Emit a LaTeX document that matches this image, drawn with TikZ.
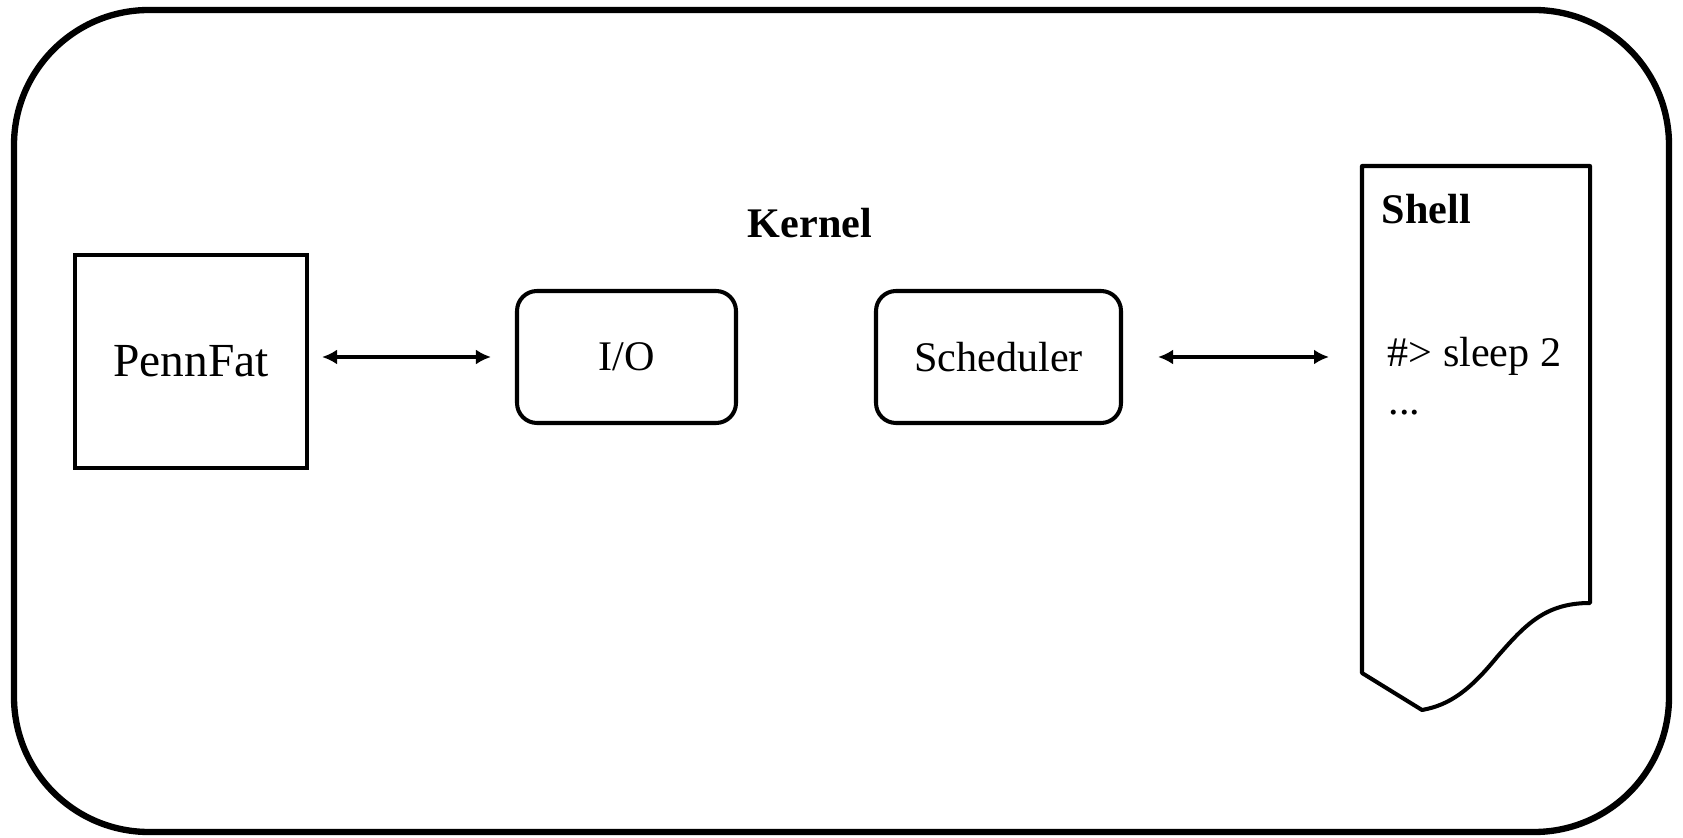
\documentclass[tikz,border=0pt]{standalone}
\usepackage{fontspec}
\setmainfont{Liberation Serif}
\usetikzlibrary{arrows.meta}
\tikzset{
    rbox/.style={draw, line width=1.15pt, rounded corners=0.2cm, minimum height=1.32cm, font=\fontsize{12}{14}\selectfont},
    biarrow/.style={{Latex[length=1.5mm,width=1.5mm]}-{Latex[length=1.5mm,width=1.5mm]}, line width=0.9pt},
    shtext/.style={anchor=base west, inner sep=0pt, font=\fontsize{12}{14}\selectfont}
}
\begin{document}
\begin{tikzpicture}
    \useasboundingbox (0,0) rectangle (16.83,8.37);
    \draw[line width=1.8pt, rounded corners=1.35cm] (0.14,0.05) rectangle (16.69,8.27);
    \node[draw, line width=1.15pt, minimum width=2.32cm, minimum height=2.13cm, font=\fontsize{13.5}{16}\selectfont] at (1.91,4.755) (pf) {PennFat};
    \node[rbox, minimum width=2.19cm] at (6.265,4.80) (io) {I/O};
    \node[rbox, minimum width=2.45cm] at (9.985,4.80) (sched) {Scheduler};
    \node[anchor=base, font=\fontsize{12}{14}\selectfont\bfseries] at (8.10,5.99) (kernel) {Kernel};
    \coordinate (shin) at (13.61,4.80);
    \draw[biarrow, shorten <=0.13cm, shorten >=0.24cm] (pf.east |- io.west) -- (io.west);
    \draw[biarrow, shorten <=0.35cm, shorten >=0.32cm] (sched.east) -- (shin);
    % shell window
    \draw[line width=1.15pt, line join=round] (13.62,1.64) -- (13.62,6.71) -- (15.90,6.71) -- (15.90,2.34)
        .. controls (15.45,2.34) and (15.25,2.12) .. (14.97,1.80)
        .. controls (14.70,1.47) and (14.50,1.32) .. (14.22,1.27)
        -- cycle;
    \node[shtext, font=\fontsize{12}{14}\selectfont\bfseries] at (13.81,6.13) (shell) {Shell};
    \node[shtext] at (13.87,4.70) (cmd) {\#> sleep 2};
    \node[shtext] at (13.88,4.22) (dots) {...};
\end{tikzpicture}
\end{document}
